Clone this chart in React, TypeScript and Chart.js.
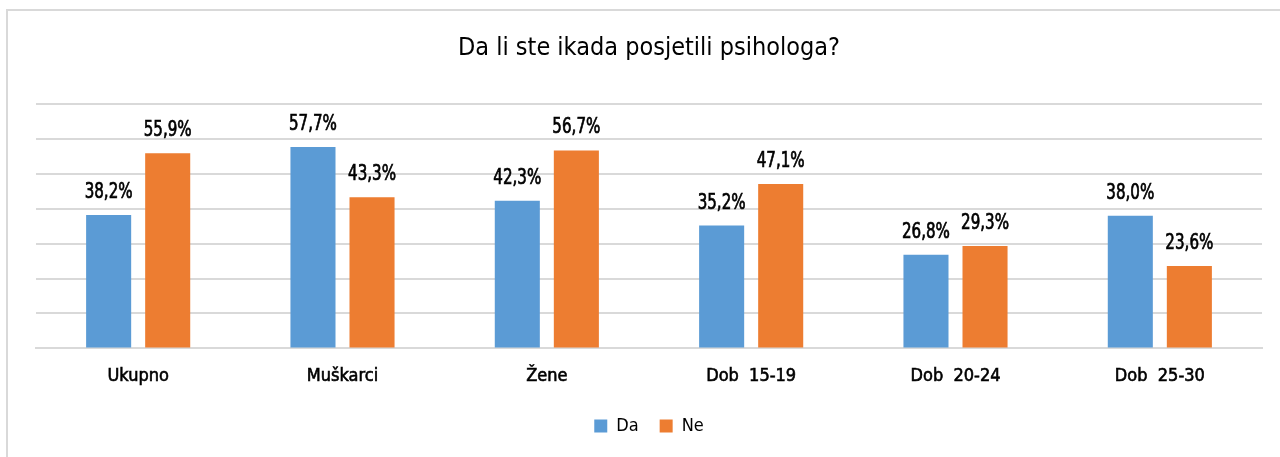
import React, { useEffect, useRef } from "react";
import { Chart, registerables } from "chart.js";

Chart.register(...registerables);

const title = "Da li ste ikada posjetili psihologa?";
const categories = ["Ukupno", "Muškarci", "Žene", "Dob  15-19", "Dob  20-24", "Dob  25-30"];
const seriesNames = ["Da", "Ne"];
const daValues = [38.2, 57.7, 42.3, 35.2, 26.8, 38.0];
const neValues = [55.9, 43.3, 56.7, 47.1, 29.3, 23.6];
const yTicks = [0, 10, 20, 30, 40, 50, 60, 70];

const FONT = "'Liberation Sans Narrow', 'DejaVu Sans Condensed', sans-serif";
const BLUE = "#5B9BD5";
const ORANGE = "#ED7D31";
const GRID = "#d9d9d9";

const fmt = (v: number) => v.toFixed(1).replace(".", ",") + "%";

const labelPlugin = {
  id: "barLabels",
  afterDatasetsDraw(chart: any) {
    const ctx = chart.ctx;
    chart.data.datasets.forEach((ds: any, di: number) => {
      const meta = chart.getDatasetMeta(di);
      meta.data.forEach((bar: any, i: number) => {
        const t = fmt(ds.data[i]);
        ctx.save();
        ctx.translate(bar.x, bar.y - 17);
        ctx.scale(0.8, 1);
        ctx.font = `normal 21px ${FONT}`;
        ctx.fillStyle = "#000";
        ctx.strokeStyle = "#000";
        ctx.lineWidth = 0.7;
        ctx.textAlign = "center";
        ctx.textBaseline = "alphabetic";
        ctx.fillText(t, 0, 0);
        ctx.strokeText(t, 0, 0);
        ctx.restore();
      });
    });
  },
};

export default function App() {
  const ref = useRef<HTMLCanvasElement>(null);
  useEffect(() => {
    if (!ref.current) return;
    const chart = new Chart(ref.current, {
      type: "bar",
      data: {
        labels: categories,
        datasets: [
          { label: seriesNames[0], data: daValues, backgroundColor: BLUE, borderWidth: 0 },
          { label: seriesNames[1], data: neValues, backgroundColor: ORANGE, borderWidth: 0 },
        ],
      },
      options: {
        animation: false,
        responsive: false,
        maintainAspectRatio: false,
        layout: { padding: { left: 36, right: 18, top: 0, bottom: 12 } },
        datasets: { bar: { categoryPercentage: 0.578, barPercentage: 0.763 } },
        plugins: {
          title: {
            display: true,
            text: title,
            color: "#000",
            font: { family: FONT, size: 25, weight: "normal" },
            padding: { top: 33, bottom: 41 },
          },
          legend: {
            position: "bottom",
            labels: {
              color: "#000",
              font: { family: FONT, size: 18, weight: "normal" },
              boxWidth: 13,
              boxHeight: 13,
              padding: 21,
            },
          },
          tooltip: { enabled: false },
        },
        scales: {
          x: {
            grid: { display: false },
            border: { display: true, color: GRID, width: 2 },
            ticks: {
              color: "#000",
              font: { family: FONT, size: 18, weight: "normal" },
              padding: 9,
              textStrokeColor: "#000",
              textStrokeWidth: 0.6,
            },
          },
          y: {
            min: 0,
            max: 70,
            afterBuildTicks: (axis: any) => {
              axis.ticks = yTicks.map((v) => ({ value: v }));
            },
            ticks: { display: false },
            border: { display: false },
            grid: { color: GRID, lineWidth: 2, drawTicks: false },
          },
        },
      },
      plugins: [labelPlugin],
    });
    return () => chart.destroy();
  }, []);
  return (
    <div style={{ position: "fixed", left: 0, top: 0, width: 1280, height: 457, background: "#fff" }}>
      <div
        style={{
          position: "absolute",
          left: 6,
          top: 9,
          right: 0,
          bottom: -5,
          borderTop: `2px solid ${GRID}`,
          borderLeft: `2px solid ${GRID}`,
        }}
      />
      <canvas ref={ref} width={1280} height={457} style={{ position: "absolute", left: 0, top: 0 }} />
    </div>
  );
}
